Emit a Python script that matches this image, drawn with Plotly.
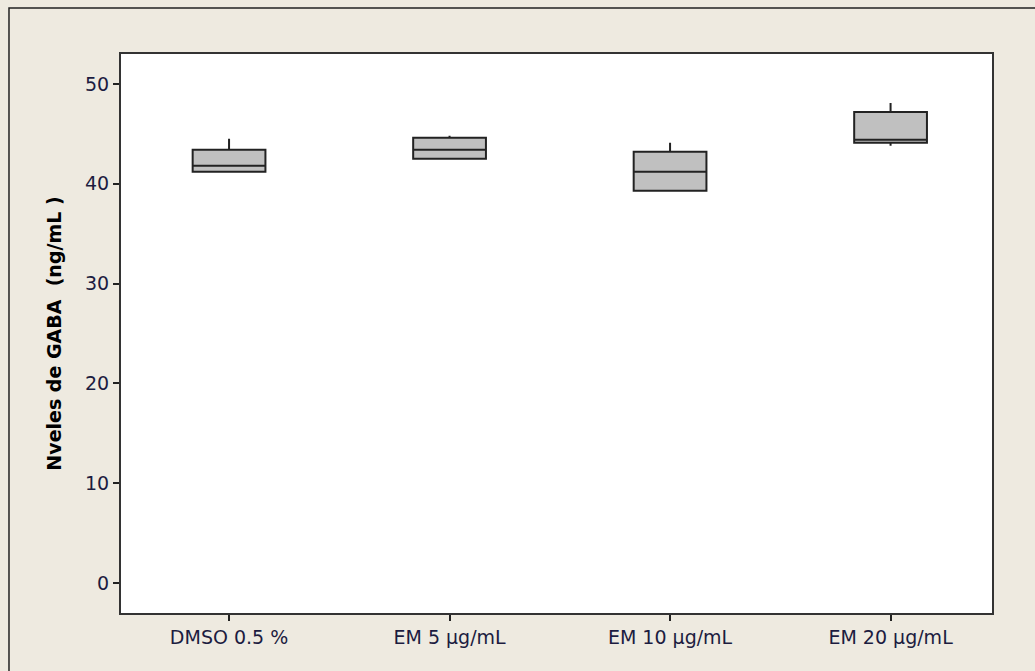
import plotly.graph_objects as go

# Five-number summaries of GABA levels (ng/mL) per treatment group
groups = ["DMSO 0.5 %", "EM 5 µg/mL", "EM 10 µg/mL", "EM 20 µg/mL"]
minimum = [41.2, 42.5, 39.3, 43.8]
q1 = [41.2, 42.5, 39.3, 44.1]
median = [41.8, 43.4, 41.2, 44.4]
q3 = [43.4, 44.6, 43.2, 47.2]
maximum = [44.5, 44.8, 44.1, 48.1]
y_ticks = [0, 10, 20, 30, 40, 50]

ink = "#222222"
label_color = "#1c1c40"

fig = go.Figure()
fig.add_trace(go.Box(
    x=groups,
    q1=q1,
    median=median,
    q3=q3,
    lowerfence=minimum,
    upperfence=maximum,
    width=0.33,
    whiskerwidth=0,
    fillcolor="#c0c0c0",
    line=dict(color=ink, width=2),
    boxpoints=False,
    hoverinfo="skip",
    showlegend=False,
))

fig.update_layout(
    width=1035,
    height=671,
    paper_bgcolor="#eeeae0",
    plot_bgcolor="#ffffff",
    margin=dict(l=121, r=43, t=54, b=58),
    font=dict(family="DejaVu Sans, Verdana, sans-serif", size=19, color=label_color),
    xaxis=dict(
        type="category",
        categoryorder="array",
        categoryarray=groups,
        range=[-0.49, 3.46],
        showline=True, linecolor="#333333", linewidth=2, mirror=True,
        ticks="outside", ticklen=6, tickwidth=1.5, tickcolor=ink,
        showgrid=False, zeroline=False,
        tickfont=dict(size=19, color=label_color),
    ),
    yaxis=dict(
        range=[-3.0, 53.0],
        tickvals=y_ticks,
        showline=True, linecolor="#333333", linewidth=2, mirror=True,
        ticks="outside", ticklen=6, tickwidth=1.5, tickcolor=ink,
        showgrid=False, zeroline=False,
        tickfont=dict(size=19, color=label_color),
        title=dict(
            text="<b>Nveles de GABA  (ng/mL )</b>",
            font=dict(size=19, color="#000000"),
            standoff=18,
        ),
    ),
    shapes=[
        # frame around the whole graph window
        dict(type="rect", xref="paper", yref="paper",
             x0=-0.1286, x1=1.2, y0=-0.3, y1=1.0823,
             line=dict(color="#222222", width=1.5), fillcolor="rgba(0,0,0,0)",
             layer="below"),
    ],
)

fig.write_html("out.html")
